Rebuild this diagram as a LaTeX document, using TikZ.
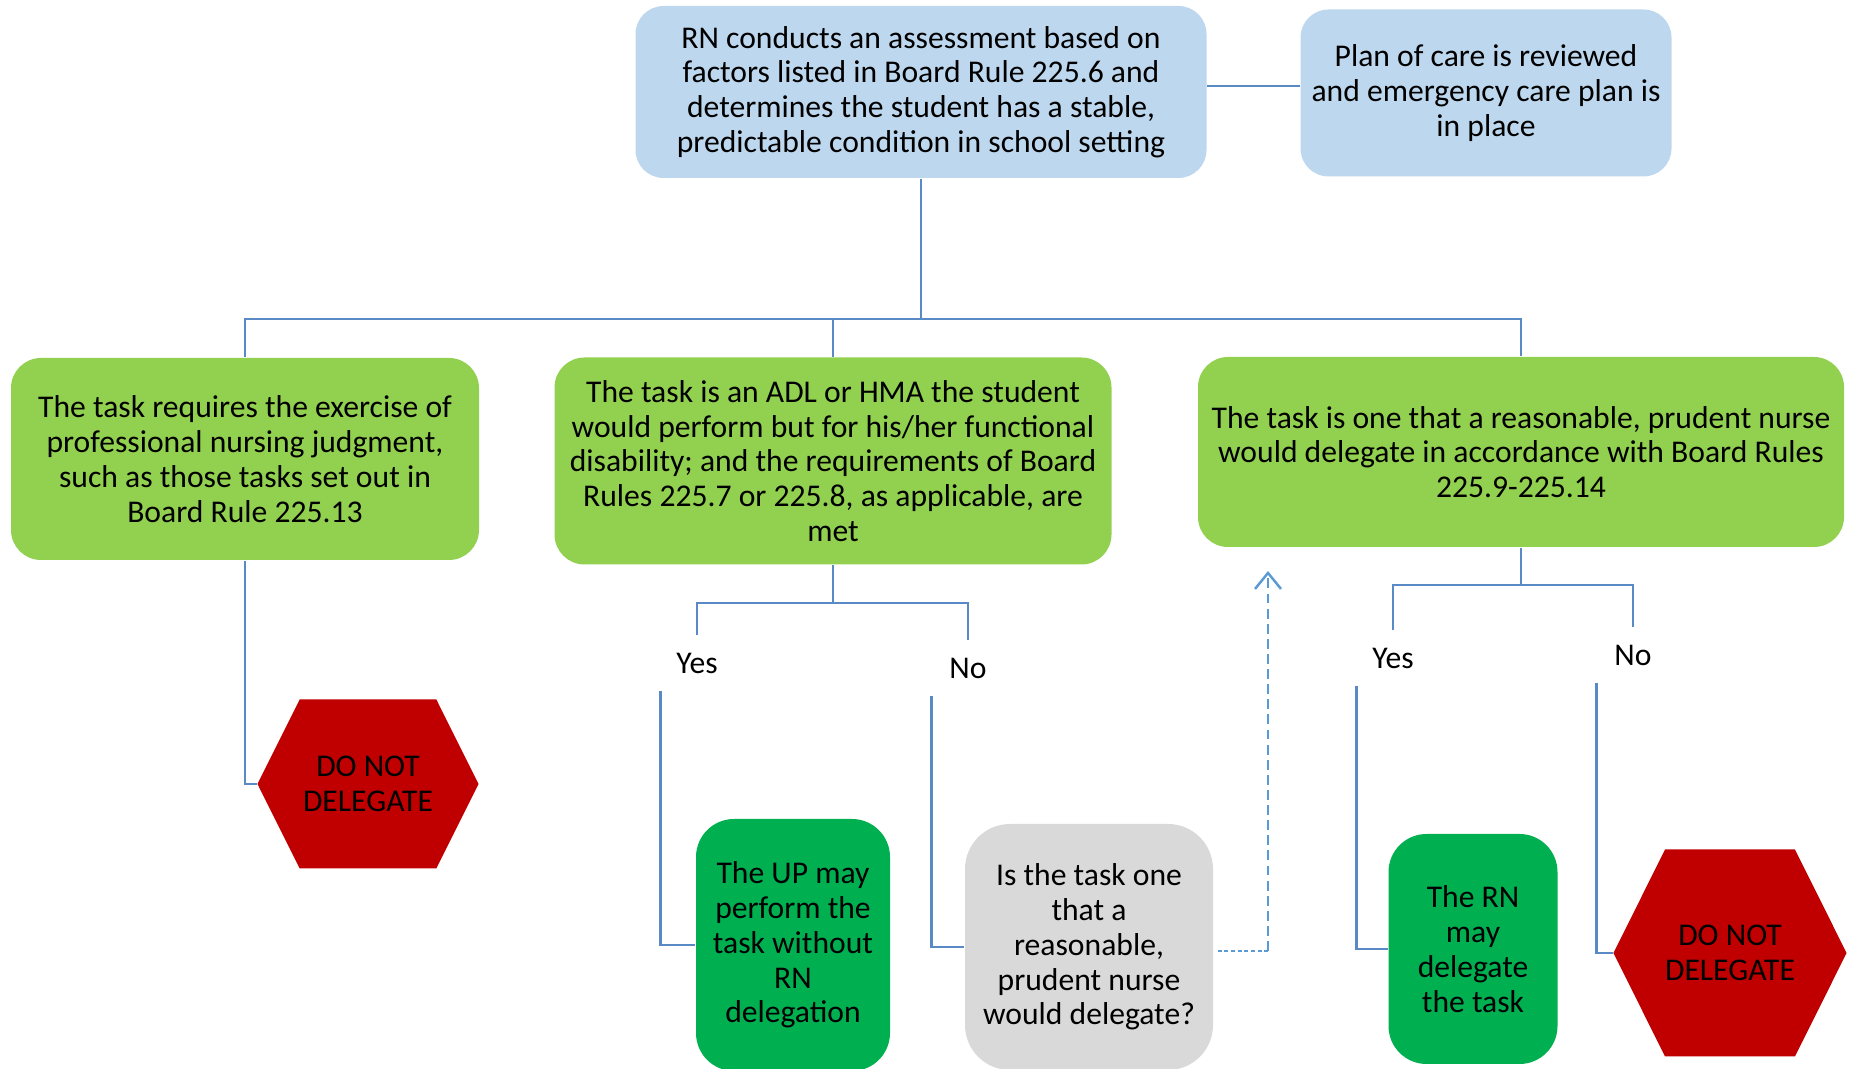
\documentclass[tikz,border=0pt]{standalone}
\usepackage{fontspec}
\setmainfont{Carlito}
\usepackage{tikz}
\usetikzlibrary{calc}
\usetikzlibrary{arrows.meta}
\usetikzlibrary{shapes.symbols}

\definecolor{paleblue}{HTML}{BDD7EE}
\definecolor{leafgreen}{HTML}{92D050}
\definecolor{okgreen}{HTML}{00B050}
\definecolor{stopred}{HTML}{C00000}
\definecolor{palegrey}{HTML}{D9D9D9}
\definecolor{linkblue}{HTML}{5A8AC6}
\definecolor{dashblue}{HTML}{5B9BD5}

\tikzset{
  txt/.style={font=\fontsize{9}{9.9}\selectfont, align=center, inner sep=0pt},
  infobox/.style={txt, fill=paleblue, rounded corners=0.28cm},
  taskbox/.style={txt, fill=leafgreen, rounded corners=0.3cm},
  okbox/.style={txt, fill=okgreen, rounded corners=0.38cm},
  askbox/.style={txt, fill=palegrey, rounded corners=0.45cm},
  stopsign/.style={txt, fill=stopred, shape=signal, signal to=east and west, signal pointer angle=127},
  answer/.style={txt, minimum width=0.72cm, minimum height=0.54cm},
  link/.style={linkblue, line width=0.7pt},
  backlink/.style={dashblue, line width=0.7pt, dash pattern=on 2.8pt off 1.5pt},
  backdots/.style={dashblue, line width=0.7pt, dash pattern=on 1.1pt off 0.8pt}
}

\begin{document}
\begin{tikzpicture}

\useasboundingbox (0,0) rectangle (18.53,-10.69);

\node[infobox, minimum width=5.71cm, minimum height=1.72cm] (assess) at (9.21,-0.92) {RN conducts an assessment based on\\factors listed in Board Rule 225.6 and\\determines the student has a stable,\\predictable condition in school setting};
\node[infobox, minimum width=3.71cm, minimum height=1.67cm] (plan) at (14.86,-0.93) {Plan of care is reviewed\\and emergency care plan is\\in place};

\node[taskbox, minimum width=4.68cm, minimum height=2.02cm] (judgment) at (2.45,-4.59) {The task requires the exercise of\\professional nursing judgment,\\such as those tasks set out in\\Board Rule 225.13};
\node[taskbox, minimum width=5.57cm, minimum height=2.07cm] (adl) at (8.33,-4.61) {The task is an ADL or HMA the student\\would perform but for his/her functional\\disability; and the requirements of Board\\Rules 225.7 or 225.8, as applicable, are\\met};
\node[taskbox, minimum width=6.46cm, minimum height=1.90cm] (prudent) at (15.21,-4.52) {The task is one that a reasonable, prudent nurse\\would delegate in accordance with Board Rules\\225.9-225.14};

\node[stopsign, minimum width=2.21cm, minimum height=1.69cm] (stopA) at (3.68,-7.84) {DO NOT\\DELEGATE};

\node[answer] (yesA) at (6.97,-6.63) {Yes};
\node[answer] (noA) at (9.68,-6.68) {No};
\node[okbox, minimum width=1.94cm, minimum height=2.52cm] (upbox) at (7.93,-9.45) {The UP may\\perform the\\task without\\RN\\delegation};
\node[askbox, minimum width=2.48cm, minimum height=2.46cm] (askbox) at (10.89,-9.47) {Is the task one\\that a\\reasonable,\\prudent nurse\\would delegate?};

\node[answer] (yesB) at (13.93,-6.58) {Yes};
\node[answer] (noB) at (16.33,-6.55) {No};
\node[okbox, minimum width=1.69cm, minimum height=2.30cm] (rnbox) at (14.73,-9.49) {The RN\\may\\delegate\\the task};
\node[stopsign, minimum width=2.27cm, minimum height=2.07cm] (stopB) at (17.30,-9.53) {DO NOT\\DELEGATE};

\coordinate (busA) at (9.21,-3.19);
\coordinate (busB) at (8.33,-6.03);
\coordinate (busC) at (15.21,-5.85);
\coordinate (turn) at (12.68,-9.51);
\coordinate (back) at (12.68,-5.71);

\draw[link] ([yshift=0.06cm]assess.east) -- ([yshift=0.06cm]assess.east -| plan.west);
\draw[link] (assess.south) -- (busA);
\draw[link] (judgment.north) -- (judgment.north |- busA) -- (prudent.north |- busA) -- (prudent.north);
\draw[link] (adl.north) -- (adl.north |- busA);

\draw[link] (judgment.south) |- (stopA.west);

\draw[link] (adl.south) -- (busB);
\draw[link] (yesA.north) |- (busB) -| (noA.north);
\draw[link] (yesA.south west) |- (upbox.west);
\draw[link] (noA.south west) |- (askbox.west);
\draw[backdots] ([xshift=0.04cm]askbox.east |- turn) -- (turn);
\draw[backlink, -{Straight Barb[length=1.6mm,width=2.6mm]}] (turn) -- (back);

\draw[link] (prudent.south) -- (busC);
\draw[link] (yesB.north) |- (busC) -| (noB.north);
\draw[link] (yesB.south west) |- (rnbox.west);
\draw[link] (noB.south west) |- (stopB.west);

\end{tikzpicture}
\end{document}
